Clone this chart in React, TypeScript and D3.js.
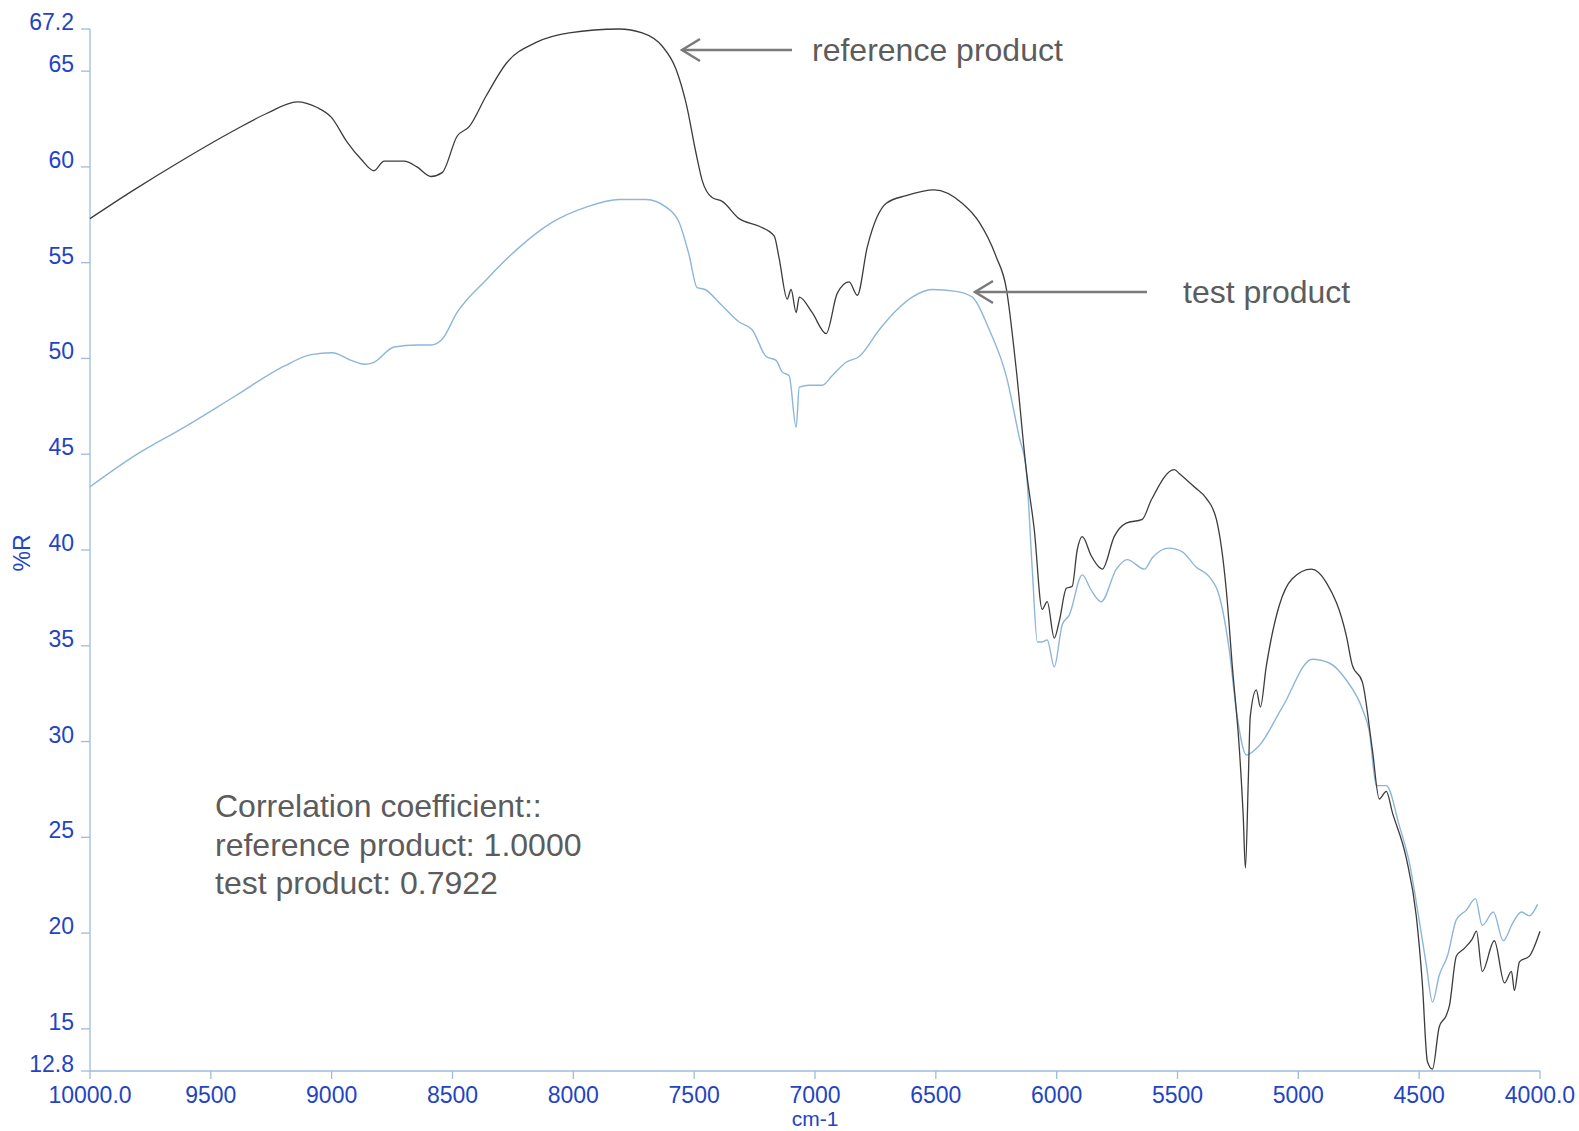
import React from 'react';
import * as d3 from 'd3';

// reference product spectrum (cm-1, %R)
const refWavenumber = [
  10000, 9818, 9611, 9404, 9267, 9143, 9060, 9002, 8936, 8878, 8825, 8783, 8700, 8647, 8589, 8543,
  8481, 8431, 8361, 8278, 8154, 8017, 7810, 7715, 7632, 7575, 7533, 7492, 7467, 7426, 7384, 7314,
  7231, 7169, 7148, 7115, 7099, 7078, 7065, 7012, 6954, 6908, 6859, 6825, 6784, 6705, 6623, 6507,
  6391, 6320, 6250, 6209, 6167, 6126, 6093, 6060, 6039, 6010, 5989, 5960, 5936, 5915, 5894, 5857,
  5824, 5811, 5762, 5712, 5646, 5609, 5513, 5493, 5431, 5381, 5339, 5298, 5273, 5244, 5228, 5219,
  5207, 5199, 5174, 5157, 5133, 5079, 5025, 4946, 4884, 4801, 4777, 4735, 4694, 4665, 4636, 4611,
  4553, 4512, 4487, 4466, 4445, 4417, 4388, 4375, 4346, 4313, 4280, 4263, 4239, 4189, 4147, 4118,
  4106, 4085, 4044, 4000,
];
const refValues = [
  57.3, 58.8, 60.4, 61.9, 62.8, 63.4, 63.1, 62.6, 61.3, 60.4, 59.8, 60.3, 60.3, 60.0, 59.5, 59.7,
  61.6, 62.1, 63.7, 65.4, 66.5, 67.0, 67.2, 67.0, 66.3, 65.1, 63.3, 60.7, 59.3, 58.4, 58.2, 57.3,
  56.9, 56.4, 55.2, 53.1, 53.6, 52.4, 53.2, 52.4, 51.3, 53.4, 54.0, 53.3, 55.8, 58.1, 58.5, 58.8,
  58.1, 57.1, 55.3, 53.7, 49.4, 44.2, 41.1, 36.9, 37.3, 35.4, 36.3, 38.0, 38.1, 40.0, 40.7, 39.7,
  39.1, 39.0, 40.7, 41.4, 41.6, 42.6, 44.2, 44.0, 43.3, 42.7, 41.6, 37.9, 33.9, 29.6, 26.1, 23.4,
  28.0, 31.3, 32.7, 31.8, 33.9, 37.1, 38.5, 39.0, 38.3, 35.5, 34.0, 33.1, 29.6, 27.0, 27.4, 26.3,
  23.9, 20.9, 17.4, 13.3, 12.9, 15.1, 15.7, 16.2, 18.8, 19.2, 19.7, 20.1, 18.0, 19.6, 17.4, 18.0,
  17.0, 18.5, 18.8, 20.1,
];

// test product spectrum (cm-1, %R)
const testWavenumber = [
  10000, 9818, 9611, 9404, 9197, 9085, 8998, 8920, 8866, 8825, 8742, 8647, 8589, 8543, 8481, 8361,
  8224, 8088, 7947, 7810, 7699, 7616, 7562, 7521, 7488, 7455, 7388, 7314, 7260, 7202, 7161, 7136,
  7107, 7078, 7065, 7024, 6970, 6929, 6871, 6817, 6734, 6664, 6598, 6515, 6416, 6349, 6279, 6209,
  6155, 6126, 6101, 6080, 6060, 6039, 6010, 5977, 5948, 5894, 5857, 5816, 5753, 5708, 5637, 5604,
  5534, 5480, 5422, 5368, 5327, 5286, 5253, 5215, 5161, 5066, 4942, 4872, 4801, 4735, 4706, 4677,
  4636, 4582, 4541, 4499, 4470, 4445, 4417, 4383, 4346, 4305, 4267, 4239, 4193, 4152, 4114, 4077,
  4044, 4010,
];
const testValues = [
  43.3, 44.9, 46.4, 48.0, 49.6, 50.2, 50.3, 49.9, 49.7, 49.8, 50.6, 50.7, 50.7, 51.0, 52.4, 54.1,
  55.8, 57.1, 57.9, 58.3, 58.3, 57.9, 57.1, 55.4, 53.7, 53.6, 52.8, 51.9, 51.5, 50.1, 49.9, 49.3,
  49.1, 46.4, 48.5, 48.6, 48.6, 49.1, 49.8, 50.1, 51.5, 52.5, 53.2, 53.6, 53.5, 53.2, 51.5, 49.1,
  45.9, 44.2, 39.0, 35.2, 35.2, 35.3, 33.9, 36.1, 36.6, 38.7, 37.9, 37.3, 39.0, 39.5, 39.0, 39.6,
  40.1, 39.9, 39.1, 38.6, 37.6, 34.8, 31.3, 29.3, 29.8, 31.8, 34.3, 34.1, 33.2, 31.7, 30.5, 27.7,
  27.7, 25.6, 23.7, 20.6, 18.3, 16.4, 17.8, 18.8, 20.7, 21.2, 21.8, 20.4, 21.1, 19.6, 20.5, 21.1,
  20.9, 21.5,
];

const yTicks = [12.8, 15, 20, 25, 30, 35, 40, 45, 50, 55, 60, 65, 67.2];
const yTickLabels = ['12.8', '15', '20', '25', '30', '35', '40', '45', '50', '55', '60', '65', '67.2'];
const xTicks = [10000, 9500, 9000, 8500, 8000, 7500, 7000, 6500, 6000, 5500, 5000, 4500, 4000];
const xTickLabels = ['10000.0', '9500', '9000', '8500', '8000', '7500', '7000', '6500', '6000', '5500', '5000', '4500', '4000.0'];

const correlationLines = ['Correlation coefficient::', 'reference product: 1.0000', 'test product: 0.7922'];

const W = 1579;
const H = 1131;
const axisColor = '#9dbbe0';
const labelColor = '#1f44c4';
const noteColor = '#5c5c5c';
const font = 'Arial, "Liberation Sans", Helvetica, sans-serif';

const App: React.FC = () => {
  const x = d3.scaleLinear().domain([10000, 4000]).range([90, 1540]);
  const y = d3.scaleLinear().domain([12.8, 67.2]).range([1071, 29]);

  const line = d3.line<[number, number]>()
    .x(d => x(d[0]))
    .y(d => y(d[1]))
    .curve(d3.curveMonotoneX);

  const refPts = refWavenumber.map((w, i) => [w, refValues[i]] as [number, number]);
  const testPts = testWavenumber.map((w, i) => [w, testValues[i]] as [number, number]);

  const x0 = x(10000);
  const yb = y(12.8);

  return (
    <svg width={W} height={H} style={{ position: 'absolute', left: 0, top: 0, background: '#fff' }}
      fontFamily={font}>
      {/* axes */}
      <line x1={x0} x2={x0} y1={y(67.2)} y2={yb} stroke={axisColor} strokeWidth={1.3} />
      <line x1={x0} x2={x(4000)} y1={yb} y2={yb} stroke={axisColor} strokeWidth={1.3} />
      {yTicks.map((t, i) => (
        <g key={'y' + t}>
          <line x1={x0 - 9} x2={x0} y1={y(t)} y2={y(t)} stroke={axisColor} strokeWidth={1.3} />
          <text x={x0 - 16} y={y(t) + 1} textAnchor="end" fontSize={23} fill={labelColor}>{yTickLabels[i]}</text>
        </g>
      ))}
      {xTicks.map((t, i) => (
        <g key={'x' + t}>
          <line x1={x(t)} x2={x(t)} y1={yb} y2={yb + 8} stroke={axisColor} strokeWidth={1.3} />
          <text x={x(t)} y={yb + 32} textAnchor="middle" fontSize={23} fill={labelColor}>{xTickLabels[i]}</text>
        </g>
      ))}
      <text x={(x0 + x(4000)) / 2} y={1126} textAnchor="middle" fontSize={21} fill={labelColor}>cm-1</text>
      <text transform="translate(30,553) rotate(-90)" textAnchor="middle" fontSize={23} fill={labelColor}>%R</text>

      {/* spectra */}
      <path d={line(testPts) || ''} fill="none" stroke="#8db6da" strokeWidth={1.4} />
      <path d={line(refPts) || ''} fill="none" stroke="#3c3c3c" strokeWidth={1.3} />

      {/* annotations */}
      <g stroke="#7a7a7a" strokeWidth={2.5} fill="none">
        <line x1={682} x2={792} y1={50} y2={50} />
        <polyline points="700,39 682,50 700,61" />
        <line x1={975} x2={1147} y1={292} y2={292} />
        <polyline points="993,281 975,292 993,303" />
      </g>
      <text x={812} y={61} fontSize={32} fill={noteColor}>reference product</text>
      <text x={1183} y={303} fontSize={32} fill={noteColor}>test product</text>
      {correlationLines.map((s, i) => (
        <text key={s} x={215} y={817 + i * 38.5} fontSize={32} fill={noteColor}>{s}</text>
      ))}
    </svg>
  );
};

export default App;
